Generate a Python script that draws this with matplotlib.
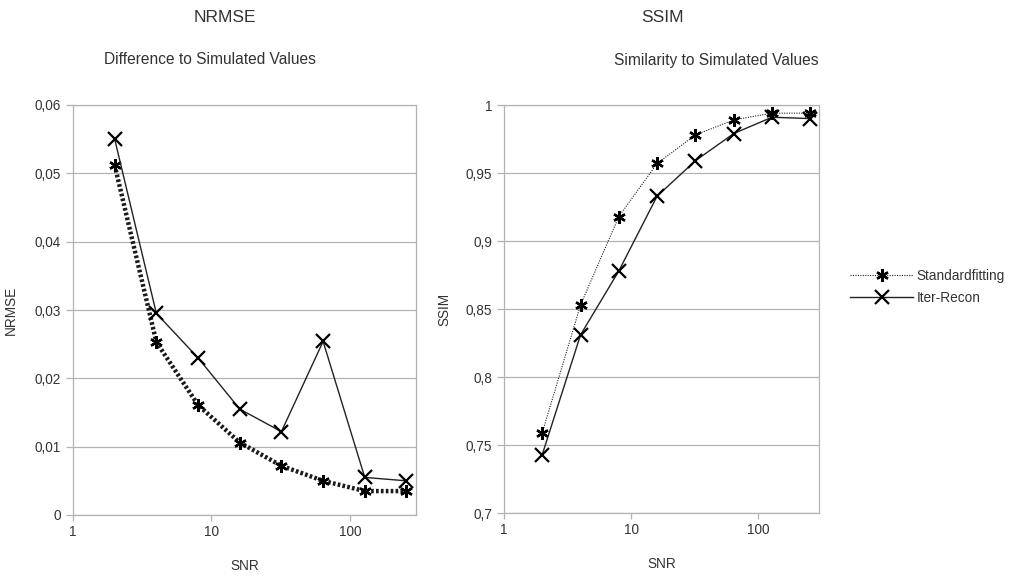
import matplotlib
matplotlib.use("Agg")
import matplotlib.pyplot as plt
from matplotlib.ticker import FixedLocator, FuncFormatter, NullLocator

plt.rcParams['font.family'] = ['Liberation Sans', 'DejaVu Sans']

snr = [2, 4, 8, 16, 32, 64, 128, 256]

nrmse_standard = [0.0512, 0.0253, 0.0161, 0.0106, 0.0072, 0.0050, 0.0035, 0.0035]
nrmse_iter = [0.0550, 0.0295, 0.0230, 0.0155, 0.0122, 0.0254, 0.0055, 0.0050]

ssim_standard = [0.759, 0.853, 0.918, 0.957, 0.978, 0.989, 0.994, 0.994]
ssim_iter = [0.743, 0.831, 0.878, 0.933, 0.959, 0.979, 0.991, 0.990]

nrmse_ticks = [0, 0.01, 0.02, 0.03, 0.04, 0.05, 0.06]
ssim_ticks = [0.7, 0.75, 0.8, 0.85, 0.9, 0.95, 1.0]
snr_ticks = [1, 10, 100]

W, H = 1012, 577
fig = plt.figure(figsize=(W / 100, H / 100), dpi=100)

def px_axes(x0, y0, x1, y1):
    return fig.add_axes([x0 / W, 1 - y1 / H, (x1 - x0) / W, (y1 - y0) / H])

ax1 = px_axes(73, 105, 416, 515)
ax2 = px_axes(504, 105, 819, 513)

def comma(v, pos):
    s = ('%g' % round(v, 4))
    return s.replace('.', ',')

grid_col = '#b3b3b3'
text_col = '#333333'

def style(ax, yticks, ylim):
    ax.set_xscale('log')
    ax.set_xlim(1, 300)
    ax.set_ylim(*ylim)
    ax.xaxis.set_major_locator(FixedLocator(snr_ticks))
    ax.xaxis.set_minor_locator(NullLocator())
    ax.xaxis.set_major_formatter(FuncFormatter(lambda v, p: '%d' % v))
    ax.yaxis.set_major_locator(FixedLocator(yticks))
    ax.yaxis.set_major_formatter(FuncFormatter(comma))
    ax.grid(axis='y', color=grid_col, lw=0.9)
    ax.set_axisbelow(True)
    for sp in ax.spines.values():
        sp.set_color(grid_col)
        sp.set_linewidth(0.9)
    ax.tick_params(axis='both', colors=grid_col, labelcolor=text_col,
                   labelsize=9.8, length=4, width=0.9)
    ax.tick_params(axis='y', length=5, direction='out')
    ax.set_xlabel('SNR', fontsize=9.8, color=text_col, labelpad=14)

style(ax1, nrmse_ticks, (0, 0.06))
style(ax2, ssim_ticks, (0.7, 1.0))

# asterisk-shaped marker for the standard fit
star = (6, 2, 0)

ax1.plot(snr, nrmse_standard, color='#1a1a1a', lw=3.2, ls=(0, (0.6, 0.5)),
         marker=star, ms=9, mew=1.7, mec='black', zorder=3)
ax1.plot(snr, nrmse_iter, color='#222222', lw=1.0, marker='x', ms=10, mew=1.6,
         mec='black', zorder=4)

l1, = ax2.plot(snr, ssim_standard, color='#222222', lw=0.8, ls=(0, (1, 1.2)),
               marker=star, ms=9, mew=1.7, mec='black', zorder=3)
l2, = ax2.plot(snr, ssim_iter, color='#222222', lw=1.0, marker='x', ms=10, mew=1.6,
               mec='black', zorder=4)

ax1.set_ylabel('NRMSE', fontsize=9.8, color=text_col, labelpad=12)
ax2.set_ylabel('SSIM', fontsize=9.8, color=text_col, labelpad=10)

fig.text(225 / W, 1 - 17 / H, 'NRMSE', ha='center', va='center', fontsize=12.5, color=text_col)
fig.text(210 / W, 1 - 60 / H, 'Difference to Simulated Values', ha='center', va='center',
         fontsize=11.2, color=text_col)
fig.text(662 / W, 1 - 17 / H, 'SSIM', ha='center', va='center', fontsize=12.5, color=text_col)
fig.text(716 / W, 1 - 60 / H, 'Similarity to Simulated Values', ha='center', va='center',
         fontsize=11.2, color=text_col)

fig.legend([l1, l2], ['Standardfitting', 'Iter-Recon'],
           loc='center left', bbox_to_anchor=(838 / W, 1 - 287 / H),
           frameon=False, fontsize=9.8, handlelength=4.6, handletextpad=0.25,
           labelspacing=0.55, labelcolor=text_col)

fig.savefig('out.png', dpi=100)
